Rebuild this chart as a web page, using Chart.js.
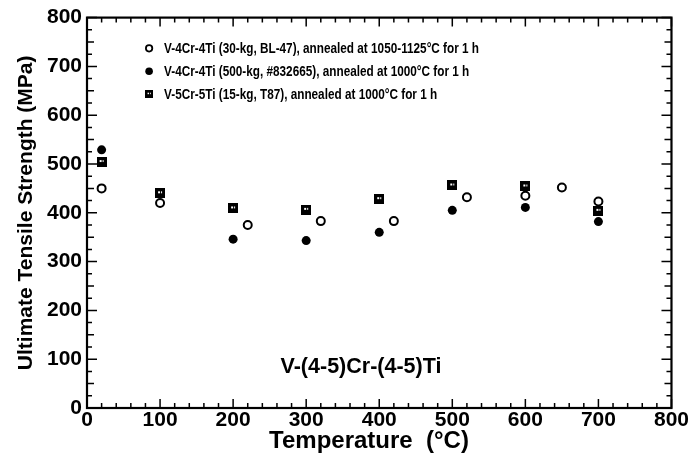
<!DOCTYPE html>
<html><head><meta charset="utf-8">
<script src="https://cdn.jsdelivr.net/npm/chart.js@4/dist/chart.umd.min.js"></script>
<style>html,body{margin:0;padding:0;background:#fff}#wrap{width:689px;height:457px}</style>
</head><body><div id="wrap"><canvas id="c" width="689" height="457"></canvas></div>
<script>
const seriesLabels = [
  "V-4Cr-4Ti (30-kg, BL-47), annealed at 1050-1125°C for 1 h",
  "V-4Cr-4Ti (500-kg, #832665), annealed at 1000°C for 1 h",
  "V-5Cr-5Ti (15-kg, T87), annealed at 1000°C for 1 h"
];
const bl47Temp = [20, 100, 220, 320, 420, 520, 600, 650, 700];
const bl47Uts  = [450, 420, 375, 383, 383, 432, 435, 452, 423];
const h832Temp = [20, 200, 300, 400, 500, 600, 700];
const h832Uts  = [529, 346, 343, 360, 405, 411, 382];
const t87Temp  = [20, 100, 200, 300, 400, 500, 600, 700];
const t87Uts   = [504, 440, 409, 406, 428, 456, 454, 404];
const xTicks = [0, 100, 200, 300, 400, 500, 600, 700, 800];
const yTicks = [0, 100, 200, 300, 400, 500, 600, 700, 800];
const annotationText = "V-(4-5)Cr-(4-5)Ti";
const xTitle = "Temperature  (°C)";
const yTitle = "Ultimate Tensile Strength (MPa)";

function pts(xs, ys){ return xs.map((x,i)=>({x:x,y:ys[i]})); }

// square marker with small white specks
const sq = document.createElement('canvas');
sq.width = 10; sq.height = 10;
(function(){const g=sq.getContext('2d');g.fillStyle='#000';g.fillRect(0,0,10,10);g.fillStyle='#fff';g.fillRect(3,3,2,2);g.fillRect(6,3,1,2);})();

const FONT = "'Liberation Sans', Arial, Helvetica, sans-serif";

const ticksPlugin = {
  id: 'inTicks',
  afterDraw(chart){
    const ctx = chart.ctx, a = chart.chartArea, xs = chart.scales.x, ys = chart.scales.y;
    ctx.save();
    ctx.strokeStyle = '#000';
    ctx.lineWidth = 1.5;
    for (let v = 0; v <= 800; v += 20) {
      const p = xs.getPixelForValue(v);
      const L = (v % 100 === 0) ? 9 : 5;
      ctx.beginPath();
      ctx.moveTo(p, a.bottom); ctx.lineTo(p, a.bottom - L);
      ctx.moveTo(p, a.top); ctx.lineTo(p, a.top + L);
      ctx.stroke();
    }
    for (let v = 0; v <= 800; v += 25) {
      const p = ys.getPixelForValue(v);
      const L = (v % 100 === 0) ? 10 : (v % 50 === 0 ? 7 : 5);
      ctx.beginPath();
      ctx.moveTo(a.left, p); ctx.lineTo(a.left + L, p);
      ctx.moveTo(a.right, p); ctx.lineTo(a.right - L, p);
      ctx.stroke();
    }
    ctx.lineWidth = 2.2;
    ctx.strokeRect(a.left, a.top, a.right - a.left, a.bottom - a.top);
    ctx.fillStyle = '#000';
    // x title
    ctx.font = "bold 24px " + FONT;
    ctx.textAlign = 'center'; ctx.textBaseline = 'middle';
    ctx.fillText(xTitle, xs.getPixelForValue(386), a.bottom + 33);
    // annotation
    ctx.font = "bold 21.5px " + FONT;
    ctx.fillText(annotationText, xs.getPixelForValue(375), ys.getPixelForValue(84));
    // legend
    ctx.font = "bold 14px " + FONT;
    ctx.textAlign = 'left';
    const lx = xs.getPixelForValue(85);
    chart.data.datasets.forEach((ds, i) => {
      const y = ys.getPixelForValue(737 - i * 47);
      if (i === 0) { ctx.beginPath(); ctx.arc(lx, y, 3.2, 0, Math.PI*2); ctx.fillStyle='#fff'; ctx.fill(); ctx.lineWidth=1.8; ctx.stroke(); }
      else if (i === 1) { ctx.beginPath(); ctx.arc(lx, y, 3.8, 0, Math.PI*2); ctx.fillStyle='#000'; ctx.fill(); }
      else { ctx.drawImage(sq, lx - 4, y - 4, 8, 8); }
      ctx.fillStyle = '#000';
      ctx.save();
      ctx.translate(lx + 15, y + 1);
      ctx.scale(0.84, 1);
      ctx.fillText(ds.label, 0, 0);
      ctx.restore();
    });
    ctx.restore();
  }
};

new Chart(document.getElementById('c'), {
  type: 'scatter',
  data: { datasets: [
    { label: seriesLabels[0], data: pts(bl47Temp, bl47Uts), pointStyle: 'circle', pointRadius: 4, pointBorderWidth: 2, borderColor: '#000', backgroundColor: '#fff' },
    { label: seriesLabels[1], data: pts(h832Temp, h832Uts), pointStyle: 'circle', pointRadius: 4.5, pointBorderWidth: 0, borderColor: '#000', backgroundColor: '#000' },
    { label: seriesLabels[2], data: pts(t87Temp, t87Uts), pointStyle: sq, pointRadius: 5 }
  ]},
  options: {
    responsive: false, animation: false,
    layout: { padding: { left: 6, right: 17, top: 16, bottom: 4 } },
    plugins: { legend: { display: false }, tooltip: { enabled: false } },
    scales: {
      x: {
        type: 'linear', min: 0, max: 800,
        afterBuildTicks: s => { s.ticks = xTicks.map(v => ({ value: v })); },
        grid: { display: false, drawTicks: false },
        border: { display: false },
        ticks: { color: '#000', font: { family: FONT, size: 21, weight: 'bold' }, padding: 0, maxRotation: 0 },
        title: { display: false },
        afterFit: s => { s.height = 45; }
      },
      y: {
        type: 'linear', min: 0, max: 800,
        afterBuildTicks: s => { s.ticks = yTicks.map(v => ({ value: v })); },
        grid: { display: false, drawTicks: false },
        border: { display: false },
        ticks: { color: '#000', font: { family: FONT, size: 21, weight: 'bold' }, padding: 5 },
        title: { display: true, text: yTitle, color: '#000', font: { family: FONT, size: 21, weight: 'bold' }, padding: { top: 8, bottom: 0 } },
        afterFit: s => { s.width = 81; }
      }
    }
  },
  plugins: [ticksPlugin]
});
</script>
</body></html>
